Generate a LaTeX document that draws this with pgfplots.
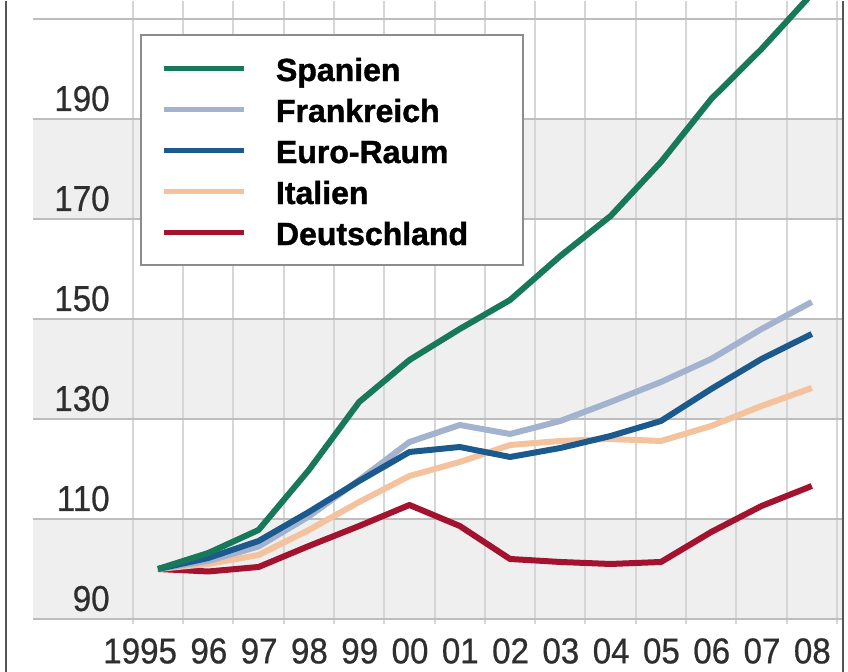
\documentclass[border=0pt]{standalone}
\usepackage{fontspec}
\setmainfont{Liberation Sans}
\newfontfamily\ticksfont{Liberation Sans}[FakeStretch=0.92, FakeBold=0.6]
\newfontfamily\legfont{Liberation Sans Bold}[FakeBold=1.2]
\usepackage{pgfplots}
\pgfplotsset{compat=1.18}
\usepackage{pgfplotstable}

\definecolor{spain}{HTML}{17795A}
\definecolor{france}{HTML}{A3B3CF}
\definecolor{euro}{HTML}{1C5A8E}
\definecolor{italy}{HTML}{F4C29C}
\definecolor{germany}{HTML}{A3122E}
\definecolor{band}{HTML}{EFEFEF}
\definecolor{hgrid}{HTML}{BDBDBD}
\definecolor{vgrid}{HTML}{D6D6D6}
\definecolor{tickgray}{HTML}{2E2E2E}
\definecolor{legendgray}{HTML}{8C8C8C}
\definecolor{framegray}{HTML}{555555}

% index, 1995 = 100
\pgfplotstableread{
year spain france euro italy germany
1995 100.0 100.0 100.0 100.0 100.0
1996 103.2 101.6 102.2 101.0 99.5
1997 107.8 104.5 105.6 102.8 100.4
1998 119.8 110.5 111.4 107.8 104.6
1999 133.4 117.8 117.6 113.4 108.6
2000 141.8 125.4 123.4 118.6 112.8
2001 148.0 128.8 124.4 121.4 108.6
2002 153.8 127.0 122.4 124.8 102.0
2003 162.6 129.6 124.2 125.6 101.4
2004 170.6 133.4 126.6 126.0 101.0
2005 181.4 137.4 129.6 125.6 101.4
2006 194.0 142.0 136.0 128.6 107.4
2007 204.0 148.0 142.0 132.6 112.6
2008 215.0 153.4 147.0 136.2 116.6
}\lohn

\begin{document}
\begin{tikzpicture}
\begin{axis}[
  at={(0,0)}, anchor=south west,
  set layers,
  scale only axis,
  width=404.5pt, height=311.5pt,
  xmin=1992.515, xmax=2008.6,
  ymin=89, ymax=213.6,
  axis line style={draw=none},
  major tick length=0pt, minor tick length=0pt,
  xtick={1995,...,2008},
  xticklabels={1995,96,97,98,99,00,01,02,03,04,05,06,07,08},
  minor xtick={1994.5,1995.5,...,2008.5},
  xminorgrids,
  minor grid style={draw=vgrid, line width=1pt},
  ytick={90,110,...,210},
  yticklabels={90,110,130,150,170,190,{}},
  ymajorgrids,
  major grid style={draw=hgrid, line width=1pt},
  tick label style={font=\ticksfont\fontsize{18}{18}\selectfont, text=tickgray},
  xticklabel style={anchor=east, inner sep=0pt, xshift=9.7pt, yshift=-13.5pt},
  yticklabel style={anchor=base east, inner sep=0pt, xshift=38.5pt, yshift=4pt},
  legend cell align=left,
  legend image code/.code={\draw[#1] (0pt,0pt) -- (40pt,0pt);},
  legend style={at={(axis description cs:0.1323,0.947)}, anchor=north west,
    draw=legendgray, line width=1pt, fill=white,
    inner xsep=10pt, inner ysep=8pt, row sep=3.5pt, column sep=15pt,
    font=\legfont\fontsize{16}{18}\selectfont,
    nodes={inner sep=0pt, text height=15pt, text depth=2pt, text width=113.5pt, align=left}},
  every axis plot/.append style={line width=3pt, line join=round, no markers},
]
\begin{pgfonlayer}{axis background}
  \fill[band] (axis cs:1992.515,90) rectangle (axis cs:2008.6,110);
  \fill[band] (axis cs:1992.515,130) rectangle (axis cs:2008.6,150);
  \fill[band] (axis cs:1992.515,170) rectangle (axis cs:2008.6,190);
\end{pgfonlayer}

\addlegendimage{spain, line width=2.5pt}
\addlegendentry{Spanien}
\addlegendimage{france, line width=2.5pt}
\addlegendentry{Frankreich}
\addlegendimage{euro, line width=2.5pt}
\addlegendentry{Euro-Raum}
\addlegendimage{italy, line width=2.5pt}
\addlegendentry{Italien}
\addlegendimage{germany, line width=2.5pt}
\addlegendentry{Deutschland}

\addplot[germany, forget plot] table[x=year, y=germany] {\lohn};
\addplot[italy, forget plot] table[x=year, y=italy] {\lohn};
\addplot[france, forget plot] table[x=year, y=france] {\lohn};
\addplot[euro, forget plot] table[x=year, y=euro] {\lohn};
\addplot[spain, forget plot] table[x=year, y=spain] {\lohn};
\end{axis}
\path (-16.5pt,-24pt) rectangle (407.5pt,311.5pt);
\draw[overlay, framegray, line width=1.2pt] (-13.5pt,-24pt) -- (-13.5pt,311.5pt);
\draw[overlay, framegray, line width=1.2pt] (405pt,-24pt) -- (405pt,311.5pt);
\end{tikzpicture}
\end{document}
